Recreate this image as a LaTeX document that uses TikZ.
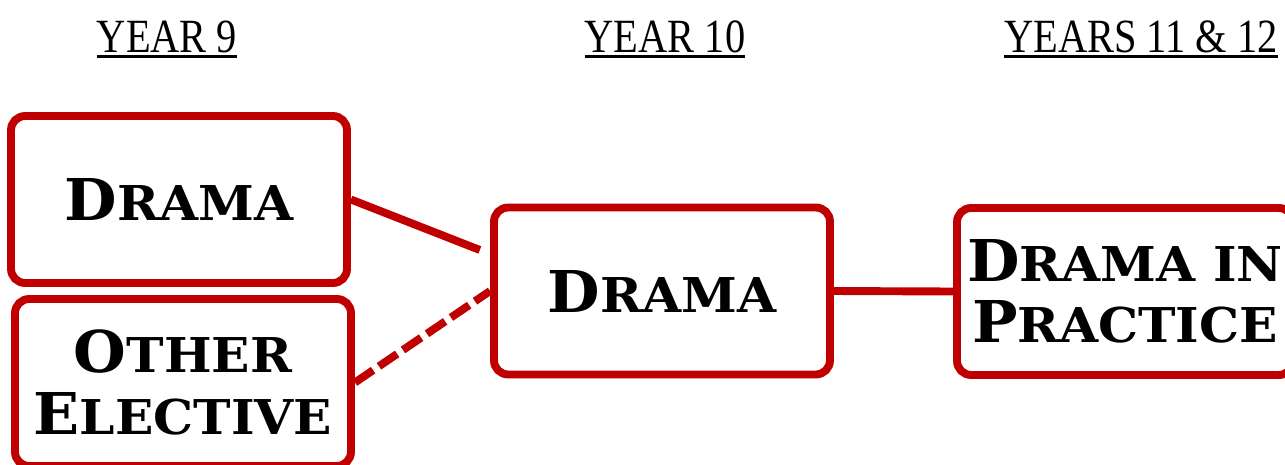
\documentclass[tikz,border=0pt]{standalone}
\usepackage{fontspec}
\setmainfont{Liberation Serif}
\newfontfamily\headfont{Liberation Serif}
\newfontfamily\boxfont{DejaVu Serif}[FakeStretch=1.05]
\usetikzlibrary{calc}
\definecolor{schoolred}{RGB}{192, 0, 0}
\newcommand\bigletter[1]{{\fontsize{32.8}{35}\selectfont #1}}
\newcommand\ulhead[1]{\setbox0\hbox{\scalebox{1}[1.18]{#1}}\rlap{\copy0}\rule[-3.4pt]{\wd0}{1.6pt}}

\begin{document}
\begin{tikzpicture}[x=0.02cm, y=-0.02cm,
  box/.style={draw=schoolred, line width=4.5pt, rounded corners=8pt, minimum width=6.72cm, minimum height=3.34cm, inner sep=0pt, align=center, font=\boxfont\bfseries\fontsize{27.3}{35}\selectfont},
  link/.style={schoolred, line width=4.5pt},
  head/.style={anchor=base, font=\headfont\fontsize{23}{26}\selectfont}]
\clip (0,0) rectangle (1285,464);

% year headings
\node[head] (h9) at (167,52) {\ulhead{YEAR 9}};
\node[head] (h10) at (665,52) {\ulhead{YEAR 10}};
\node[head] (h11) at (1141,52) {\ulhead{YEARS 11 \& 12}};

% subjects
\node[box] (d9) at (179,199.5) {\bigletter{D}RAMA};
\node[box] (oe) at (183,382.5) {\bigletter{O}THER\\\bigletter{E}LECTIVE};
\node[box] (d10) at (662,291) {\bigletter{D}RAMA};
\node[box] (dip) at (1125,291.5) {\bigletter{D}RAMA IN\\\bigletter{P}RACTICE};

\draw[link, shorten >=0.22cm] (d9.east) -- ($(d10.west)+(0,-37)$);
\draw[link, dash pattern=on 0.44cm off 0.14cm] (oe.east) -- (d10.west);
\draw[link] (d10.east) -- (dip.west);
\end{tikzpicture}
\end{document}
